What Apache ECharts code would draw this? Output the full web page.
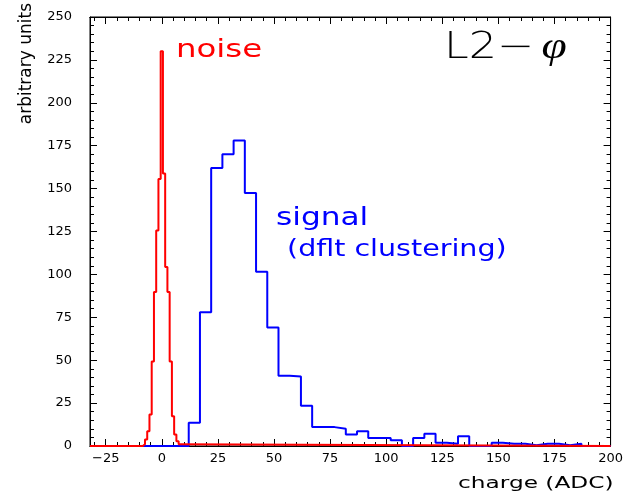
<!DOCTYPE html>
<html>
<head>
<meta charset="utf-8">
<script src="https://cdn.jsdelivr.net/npm/echarts@6/dist/echarts.min.js"></script>
<style>
  html, body { margin: 0; padding: 0; background: #fff; }
  #chart { width: 626px; height: 493px; }
</style>
</head>
<body>
<div id="chart"></div>
<script>
// ---- data ----
const xTickLabels = [-25, 0, 25, 50, 75, 100, 125, 150, 175, 200];
const yTickLabels = [0, 25, 50, 75, 100, 125, 150, 175, 200, 225, 250];

// signal histogram: bins of width 5 starting at 12
const signalFirstEdge = 12;
const signalBinWidth = 5;
const signalCounts = [13.5, 78, 162, 170, 178, 147.5, 101.5, 69, 41, 40.5, 23.5,
  11, 11, 10, 6.7, 8.6, 4.7, 4.7, 3.4, 0, 4.7, 7.1, 1.9, 1.3, 5.7, 0, 0,
  1.9, 1.3, 1.3, 0.4, 1.3, 1.3, 0.5, 1.3];

// noise histogram: bins of width 1 centred on -8 .. 8
const noiseFirstEdge = -8.5;
const noiseBinWidth = 1;
const noiseCounts = [1, 3.8, 8.6, 18.3, 49.2, 89.8, 125.6, 155.6, 230, 158.8,
  104.3, 89.8, 49.2, 17.3, 6.7, 2.8, 1];

const xMin = -32, xMax = 200;

function histPoints(firstEdge, width, counts) {
  const pts = [[xMin, 0]];
  counts.forEach((c, i) => pts.push([firstEdge + i * width, c]));
  pts.push([firstEdge + counts.length * width, 0]);
  pts.push([xMax, 0]);
  return pts;
}

const xMinorTicks = [];
for (let v = -30; v <= 200; v += 5) if (v % 25 !== 0) xMinorTicks.push(v);

const FONT = 'DejaVu Sans';

const chart = echarts.init(document.getElementById('chart'), null, { renderer: 'canvas' });

function xAx(pos, major, showLabel) {
  return {
    type: 'value', position: pos, min: xMin, max: xMax,
    axisLine: { show: true, onZero: false, lineStyle: { color: '#000', width: 1 } },
    axisTick: { show: true, inside: true, length: major ? 7 : 4,
      customValues: major ? xTickLabels : xMinorTicks, lineStyle: { color: '#000', width: 1 } },
    axisLabel: { show: showLabel, customValues: xTickLabels, margin: 6, color: '#000',
      fontFamily: FONT, fontSize: 13,
      formatter: v => (v < 0 ? '\u2212' + Math.abs(v) : String(v)) },
    splitLine: { show: false }
  };
}
function yAx(pos, showLabel) {
  return {
    type: 'value', position: pos, min: 0, max: 250, interval: 25,
    axisLine: { show: true, onZero: false, lineStyle: { color: '#000', width: 1 } },
    axisTick: { show: true, inside: true, length: 7, lineStyle: { color: '#000', width: 1 } },
    minorTick: { show: true, splitNumber: 5, length: 4, lineStyle: { color: '#000', width: 1 } },
    axisLabel: { show: showLabel, margin: 18, color: '#000', fontFamily: FONT, fontSize: 13 },
    splitLine: { show: false }
  };
}

chart.setOption({
  animation: false,
  backgroundColor: '#fff',
  grid: { left: 90, right: 14, top: 17, bottom: 47, show: true, borderColor: '#000', borderWidth: 1 },
  xAxis: [xAx('bottom', true, true), xAx('bottom', false, false), xAx('top', true, false), xAx('top', false, false)],
  yAxis: [yAx('left', true), yAx('right', false)],
  series: [
    { type: 'line', step: 'end', xAxisIndex: 0, yAxisIndex: 0, symbol: 'none',
      data: histPoints(signalFirstEdge, signalBinWidth, signalCounts),
      lineStyle: { color: '#0000ff', width: 2 }, clip: false },
    { type: 'line', step: 'end', xAxisIndex: 0, yAxisIndex: 0, symbol: 'none',
      data: histPoints(noiseFirstEdge, noiseBinWidth, noiseCounts),
      lineStyle: { color: '#ff0000', width: 2 }, clip: false }
  ],
  graphic: [
    { type: 'text', x: 27, y: 3, rotation: Math.PI / 2,
      style: { text: 'arbitrary units', font: '17px "DejaVu Sans"', fill: '#000', align: 'right', verticalAlign: 'middle' } },
    { type: 'text', x: 458, y: 484, scaleX: 1.55,
      style: { text: 'charge (ADC)', font: '15px "DejaVu Sans"', fill: '#000', align: 'left', verticalAlign: 'middle' } },
    { type: 'text', x: 176, y: 51, scaleX: 1.35,
      style: { text: 'noise', font: '24px "DejaVu Sans"', fill: '#ff0000', align: 'left', verticalAlign: 'middle' } },
    { type: 'text', x: 276, y: 219, scaleX: 1.3,
      style: { text: 'signal', font: '24px "DejaVu Sans"', fill: '#0000ff', align: 'left', verticalAlign: 'middle' } },
    { type: 'text', x: 287, y: 250, scaleX: 1.24,
      style: { text: '(dflt clustering)', font: '23px "DejaVu Sans"', fill: '#0000ff', align: 'left', verticalAlign: 'middle' } },
    { type: 'text', x: 444, y: 48, scaleX: 1.2,
      style: { text: '{a|L2\u2212}{b|\u03c6}', fill: '#000', align: 'left', verticalAlign: 'middle',
        rich: { a: { font: '200 37px "DejaVu Sans"', fill: '#000' }, b: { font: 'italic 38px "Liberation Serif"', fill: '#000', padding: [0, 0, 0, 6] } } } }
  ]
});
</script>
</body>
</html>
